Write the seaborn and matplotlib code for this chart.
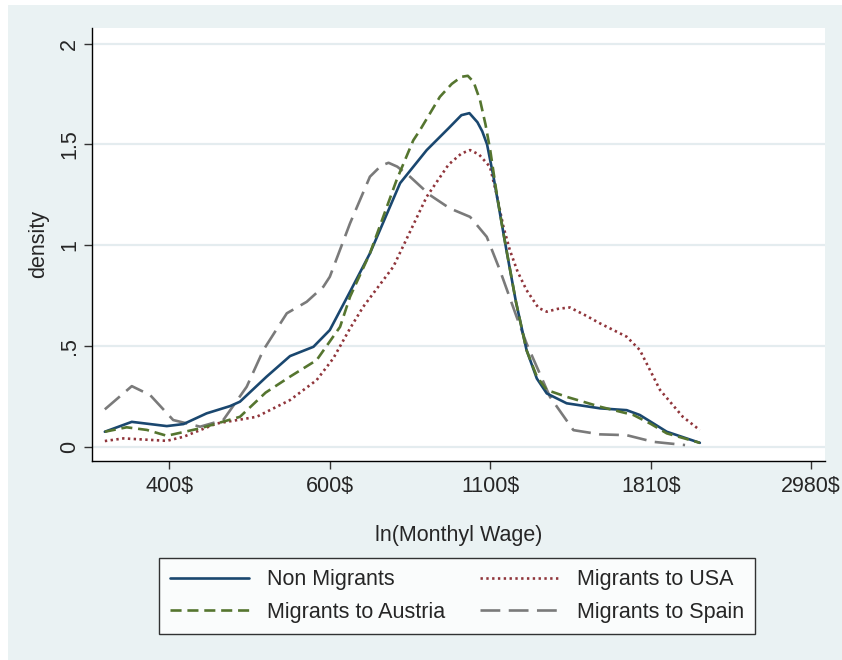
import matplotlib
matplotlib.use("Agg")
import matplotlib.pyplot as plt
from matplotlib.patches import Rectangle
import seaborn as sns
import pandas as pd

# ---------------- data ----------------
non_x = [5.799, 5.883, 5.992, 6.044, 6.116, 6.189, 6.22, 6.303, 6.376, 6.449, 6.5, 6.563, 6.625,
         6.719, 6.802, 6.87, 6.91, 6.935, 6.96, 6.975, 6.99, 7.01, 7.03, 7.051, 7.08, 7.113, 7.145,
         7.176, 7.238, 7.342, 7.425, 7.466, 7.55, 7.653]
non_y = [0.076, 0.125, 0.104, 0.114, 0.167, 0.203, 0.225, 0.349, 0.451, 0.497, 0.58, 0.77, 0.96,
         1.308, 1.472, 1.58, 1.645, 1.655, 1.61, 1.565, 1.50, 1.34, 1.16, 0.97, 0.72, 0.481, 0.34,
         0.266, 0.217, 0.192, 0.183, 0.159, 0.076, 0.021]

aut_x = [5.799, 5.867, 5.93, 5.992, 6.096, 6.22, 6.30, 6.376, 6.459, 6.532, 6.563, 6.625, 6.708,
         6.76, 6.781, 6.843, 6.88, 6.91, 6.93, 6.948, 6.968, 6.985, 7.0, 7.02, 7.041, 7.08,
         7.113, 7.145, 7.176, 7.238, 7.342, 7.446, 7.50, 7.55, 7.653]
aut_y = [0.076, 0.098, 0.085, 0.056, 0.093, 0.15, 0.27, 0.349, 0.431, 0.596, 0.745, 0.96, 1.323,
         1.52, 1.571, 1.736, 1.80, 1.835, 1.84, 1.81, 1.72, 1.60, 1.47, 1.257, 1.059, 0.72,
         0.48, 0.35, 0.283, 0.249, 0.2, 0.159, 0.115, 0.068, 0.021]

usa_x = [5.799, 5.857, 5.992, 6.044, 6.148, 6.272, 6.376, 6.459, 6.511, 6.563, 6.604, 6.698,
         6.802, 6.87, 6.91, 6.937, 6.965, 6.999, 7.02, 7.041, 7.061, 7.085, 7.113, 7.15, 7.176,
         7.21, 7.248, 7.3, 7.342, 7.425, 7.466, 7.529, 7.6, 7.653]
usa_y = [0.03, 0.043, 0.031, 0.051, 0.117, 0.15, 0.233, 0.332, 0.44, 0.588, 0.695, 0.894,
         1.241, 1.40, 1.455, 1.472, 1.45, 1.389, 1.25, 1.092, 0.976, 0.87, 0.778, 0.69, 0.671,
         0.685, 0.692, 0.65, 0.613, 0.547, 0.481, 0.283, 0.15, 0.084]

spa_x = [5.799, 5.883, 5.94, 6.012, 6.096, 6.168, 6.241, 6.293, 6.366, 6.428, 6.48, 6.5, 6.563,
         6.625, 6.66, 6.683, 6.71, 6.75, 6.812, 6.874, 6.937, 6.989, 7.03, 7.082, 7.113, 7.186,
         7.259, 7.342, 7.425, 7.508, 7.607]
spa_y = [0.187, 0.302, 0.258, 0.134, 0.101, 0.134, 0.299, 0.481, 0.663, 0.72, 0.795, 0.844, 1.109,
         1.34, 1.395, 1.409, 1.39, 1.34, 1.249, 1.183, 1.141, 1.042, 0.877, 0.646, 0.514, 0.249,
         0.084, 0.063, 0.059, 0.026, 0.01]

series_names = ["Non Migrants", "Migrants to Austria", "Migrants to USA", "Migrants to Spain"]

x_ticks = [6.0, 6.5, 7.0, 7.5, 8.0]
x_tick_labels = ["400$", "600$", "1100$", "1810$", "2980$"]
y_ticks = [0, 0.5, 1, 1.5, 2]
y_tick_labels = ["0", ".5", "1", "1.5", "2"]

# ---------------- styling ----------------
sns.set_theme(style="white")
plt.rcParams["font.family"] = ["Liberation Sans", "DejaVu Sans"]

FS = 15.5
BG = "#EAF2F3"
W, H = 842, 660
fig = plt.figure(figsize=(W / 100, H / 100), dpi=100, facecolor="white")
fig.patches.append(Rectangle((8 / W, 0), 1 - 8 / W, 1 - 5 / H, transform=fig.transFigure,
                             facecolor=BG, edgecolor="none", zorder=-10))

ax = fig.add_axes([92 / W, 1 - 461 / H, (825 - 92) / W, (461 - 28) / H])
ax.set_facecolor("white")

styles = {
    "Non Migrants": dict(color="#1A476F", linestyle="-", linewidth=1.9),
    "Migrants to Austria": dict(color="#55752F", linestyle=(0, (4.2, 2.2)), linewidth=1.9),
    "Migrants to USA": dict(color="#90353B", linestyle=(0, (0.9, 1.3)), linewidth=1.9),
    "Migrants to Spain": dict(color="#7A7A7A", linestyle=(0, (7.5, 3.2)), linewidth=1.9),
}
data = {
    "Non Migrants": (non_x, non_y),
    "Migrants to Austria": (aut_x, aut_y),
    "Migrants to USA": (usa_x, usa_y),
    "Migrants to Spain": (spa_x, spa_y),
}

# grid lines
for yt in y_ticks:
    ax.axhline(yt, color="#E4ECEF", linewidth=1.6, zorder=0)

draw_order = ["Migrants to Spain", "Migrants to USA", "Non Migrants", "Migrants to Austria"]
for name in draw_order:
    xs, ys = data[name]
    df = pd.DataFrame({"x": xs, "y": ys})
    sns.lineplot(data=df, x="x", y="y", ax=ax, sort=False, label=name,
                 solid_capstyle="round", solid_joinstyle="round", dash_capstyle="butt",
                 **styles[name])

ax.set_xlim(5.759, 8.043)
ax.set_ylim(-0.069, 2.077)
ax.set_xticks(x_ticks)
ax.set_xticklabels(x_tick_labels)
ax.set_yticks(y_ticks)
ax.set_yticklabels(y_tick_labels, rotation=90, va="center")

for s in ["top", "right"]:
    ax.spines[s].set_visible(False)
for s in ["left", "bottom"]:
    ax.spines[s].set_color("black")
    ax.spines[s].set_linewidth(1.0)

ax.tick_params(axis="both", which="major", direction="out", length=6, width=1,
               color="#333333", labelsize=FS, pad=5, bottom=True, left=True)
ax.tick_params(axis="y", pad=2.5)
ax.set_xlabel("ln(Monthyl Wage)", fontsize=FS, labelpad=20)
ax.set_ylabel("density", fontsize=FS, labelpad=7)

leg = ax.get_legend()
if leg is not None:
    leg.remove()

handles = {l.get_label(): l for l in ax.get_lines() if l.get_label() in series_names}
ordered = [handles[n] for n in series_names]
lg = fig.legend(ordered, series_names, loc="center",
                bbox_to_anchor=(159 / W, 1 - 633 / H, (755 - 159) / W, (633 - 559) / H),
                mode="expand", ncol=2, frameon=True, fancybox=False, fontsize=FS,
                handlelength=3.7, handletextpad=0.8, columnspacing=1.4,
                borderpad=0.5, labelspacing=0.55, borderaxespad=0)
lg.get_frame().set_edgecolor("black")
lg.get_frame().set_linewidth(1.0)
lg.get_frame().set_facecolor("white")

fig.savefig("out.png", dpi=100, facecolor=fig.get_facecolor())
